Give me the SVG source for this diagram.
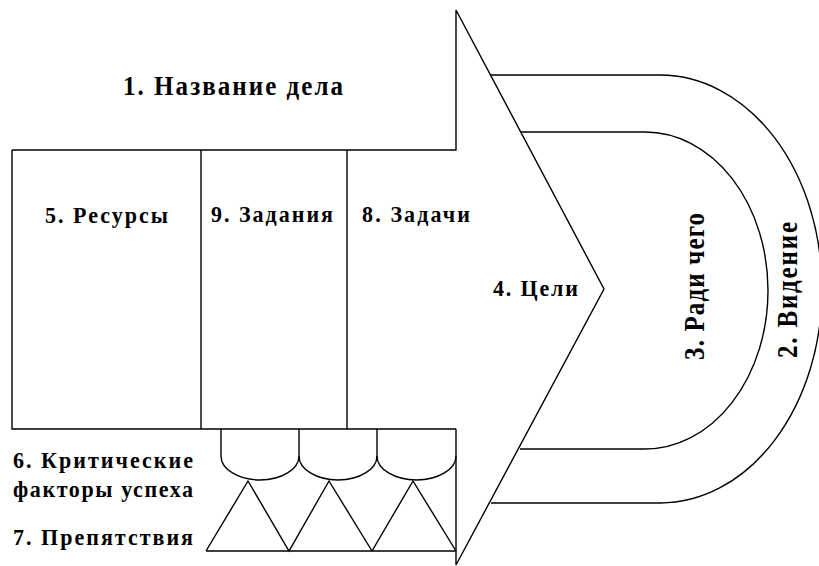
<svg xmlns="http://www.w3.org/2000/svg" width="819" height="566" viewBox="0 0 819 566">
<style>
.ln{fill:none;stroke:#000;stroke-width:1.4;stroke-linejoin:miter}
.tx{font-family:'Liberation Serif','DejaVu Serif',serif;font-weight:700;font-size:22px;fill:#000}
.big{font-size:25px}
</style>
<rect width="819" height="566" fill="#fff"/>
<g id="vision">
<path class="ln" d="M491,75 H660 A162 214 0 0 1 660,503 H491"/>
<text class="tx big" transform="translate(797,358) rotate(-90) scale(1,1.15)" textLength="136" lengthAdjust="spacing">2. Видение</text>
</g>
<g id="purpose">
<path class="ln" d="M521,132 H645 A123 158.5 0 0 1 645,449 H520"/>
<text class="tx big" transform="translate(704,360) rotate(-90) scale(1,1.15)" textLength="147" lengthAdjust="spacing">3. Ради чего</text>
</g>
<g id="arrow">
<path class="ln" d="M12,150 H456 V10 L604,289 L456,565 V429"/>
<text class="tx big" transform="translate(123,95) scale(1,1.1)" textLength="220" lengthAdjust="spacing">1. Название дела</text>
<text class="tx" transform="translate(493,296) scale(1,1.03)" textLength="85" lengthAdjust="spacing">4. Цели</text>
</g>
<g id="resources">
<path class="ln" d="M12,150 V429 H456"/>
<line class="ln" x1="201" y1="150" x2="201" y2="429" stroke-width="2"/>
<text class="tx" transform="translate(45,223) scale(1,1.04)" textLength="123" lengthAdjust="spacing">5. Ресурсы</text>
</g>
<g id="assignments">
<line class="ln" x1="347" y1="150" x2="347" y2="429"/>
<text class="tx" transform="translate(211,222) scale(1,1.04)" textLength="122" lengthAdjust="spacing">9. Задания</text>
</g>
<g id="tasks">
<text class="tx" transform="translate(362,222) scale(1,1.04)" textLength="108" lengthAdjust="spacing">8. Задачи</text>
</g>
<g id="success-factors">
<path class="ln" d="M221,429 V456 A39 24 0 0 0 299,456 V429"/>
<path class="ln" d="M299,456 A39 24 0 0 0 377,456 V429"/>
<path class="ln" d="M377,456 A39.5 24 0 0 0 456,456"/>
<text class="tx" transform="translate(13,468) scale(1,1.04)" textLength="180" lengthAdjust="spacing">6. Критические</text>
<text class="tx" transform="translate(13,497) scale(1,1.04)" textLength="180" lengthAdjust="spacing">факторы успеха</text>
</g>
<g id="obstacles">
<path class="ln" d="M206,551 L248,481 L289,551 L329,481 L372,551 L413,481 L456,551 M206,551 H456"/>
<text class="tx" transform="translate(13,545) scale(1,1.04)" textLength="180" lengthAdjust="spacing">7. Препятствия</text>
</g>
</svg>
